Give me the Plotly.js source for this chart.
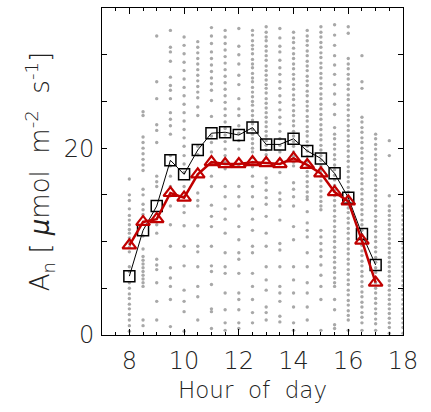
<!DOCTYPE html>
<html><head><meta charset="utf-8">
<script src="https://cdn.plot.ly/plotly-3.0.1.min.js"></script>
<style>html,body{margin:0;padding:0;background:#fff}#c{width:431px;height:412px}</style>
</head><body><div id="c"></div>
<script>
// Half-hour bins
const hours = [8,8.5,9,9.5,10,10.5,11,11.5,12,12.5,13,13.5,14,14.5,15,15.5,16,16.5,17,17.5,18];

// Individual observations (gray dots), one array per hour bin
const obs8   = [16.7,15.0,14.4,13.5,12.8,12.3,11.8,11.3,10.9,10.4,9.9,9.4,8.9,7.3,6.8,5.6,5.0,4.4,3.9,3.3,2.8,2.2,1.6,1.0,0.4];
const obs8_5 = [23.9,23.5,21.2,20.6,20.0,19.4,18.8,18.2,17.6,15.6,15.0,14.0,13.4,12.9,10.6,9.2,8.4,8.0,7.6,7.2,6.8,6.4,6.0,5.6,5.2,1.6,1.0];
const obs9   = [32.0,27.1,25.3,22.5,21.9,20.6,17.0,16.4,15.9,11.8,10.9,8.1,7.5,7.0,5.6,3.6,1.6];
const obs9_5 = [32.6,30.8,30.3,29.3,27.6,26.7,26.2,25.3,23.8,23.1,22.4,21.5,19.2,18.1,17.0,15.9,14.9,13.8,11.8,9.5,7.2,6.1,5.2,3.8,0.9];
const obs10  = [31.9,31.0,30.1,29.2,28.3,27.4,26.5,25.6,24.7,23.8,22.9,22.0,21.1,20.2,19.2,18.3,17.4,15.9,14.8,13.8,13.1,11.7,9.5,7.4,4.8,3.6,2.5,0.4];
const obs10_5= [31.4,30.8,30.2,29.6,29.0,28.4,27.8,27.2,26.6,26.0,25.4,24.4,23.5,20.2,19.3,17.0,15.2,14.4,13.8,11.7,9.5,8.9,7.3,5.2,4.1,1.6];
const obs11  = [32.9,32.0,31.2,30.3,29.6,28.9,28.2,27.5,26.9,26.2,25.1,23.4,21.3,20.6,19.6,18.4,17.0,15.9,13.9,12.7,11.6,9.5,7.4,6.8,5.4,2.8,2.5,0.7];
const obs11_5= [32.6,31.9,31.2,30.5,29.8,29.1,28.4,27.7,27.0,26.3,25.6,24.9,24.2,23.5,22.8,22.1,21.4,20.7,19.9,19.2,18.5,17.8,15.9,14.8,13.5,12.4,10.9,8.8,7.3,6.6,4.5,2.7,1.3,0.5];
const obs12  = [32.8,30.9,30.0,29.0,27.8,26.8,25.3,24.2,23.5,22.4,21.6,20.8,19.9,18.1,15.9,14.8,13.8,11.6,10.2,8.8,8.1,6.6,4.5,3.8,2.7,1.3,0.7];
const obs12_5= [32.6,32.1,31.5,31.0,30.6,30.1,29.5,29.0,28.6,28.0,27.5,27.1,26.5,26.0,25.5,25.0,24.6,24.0,23.5,23.0,22.6,22.0,21.5,21.0,20.5,20.0,19.6,19.0,18.5,18.0,17.0,15.9,14.8,13.5,12.4,11.2,9.5,8.8,6.6,5.2,3.8,2.4,1.3];
const obs13  = [33.0,32.4,31.9,31.5,30.9,30.4,29.9,29.4,28.8,28.3,27.8,27.3,26.8,26.4,25.9,25.3,24.8,24.3,23.8,23.3,22.8,22.3,21.8,21.3,20.8,20.3,19.8,19.3,18.9,16.8,16.3,15.5,14.7,14.0,12.7,10.9,9.5,7.3,5.9,4.8,3.0,2.4,1.6];
const obs13_5= [32.8,31.8,30.9,30.3,29.4,28.6,27.9,27.1,26.4,25.6,24.9,24.1,23.3,22.6,21.8,21.0,20.3,19.6,18.8,17.4,15.2,14.5,13.8,12.3,9.8,9.1,7.3,5.2,4.5,3.6,2.0,1.4];
const obs14  = [32.4,31.8,31.3,30.7,30.1,29.6,29.0,28.5,27.9,27.4,26.8,26.3,25.7,25.2,24.6,24.0,23.5,22.9,22.4,21.8,21.3,20.7,20.2,19.6,19.1,18.5,18.1,16.3,15.6,14.8,13.8,11.6,10.2,7.3,5.9,4.5,3.0,1.3,0.5];
const obs14_5= [32.6,32.0,31.5,31.0,30.4,29.9,29.3,28.8,28.3,27.7,27.2,26.7,26.1,25.6,25.0,24.5,24.0,23.4,22.9,22.3,21.8,21.3,20.7,20.2,19.7,19.1,18.6,18.0,17.5,17.0,16.4,15.9,15.3,14.8,14.5,13.2,12.0,11.2,10.5,8.8,7.3,5.6,4.5,3.0,1.6];
const obs15  = [33.0,32.4,31.9,31.3,30.8,30.2,29.7,29.1,28.6,28.0,27.5,26.9,26.4,25.8,25.3,24.7,24.2,23.6,23.1,22.5,22.0,21.4,20.9,20.3,19.8,19.2,18.7,18.1,17.6,17.0,16.5,15.9,15.4,14.8,14.3,13.8,13.4,11.2,10.5,9.8,9.1,8.4,7.5,6.4,5.2,3.8,0.5];
const obs15_5= [33.2,32.1,31.0,29.9,28.9,27.9,26.8,25.8,24.7,23.6,22.2,21.5,21.0,20.4,19.9,19.3,18.8,18.2,17.7,17.1,16.6,16.0,15.5,14.9,14.4,13.8,13.3,12.7,12.2,11.6,11.1,10.5,10.0,9.4,8.9,8.3,7.8,7.2,6.7,6.1,5.6,5.2,3.8,2.7,1.1,0.7];
const obs16  = [33.0,32.3,29.6,29.0,28.5,27.9,27.4,26.8,26.3,25.7,25.2,24.6,24.1,23.5,23.0,22.4,21.9,21.3,20.8,20.2,19.7,19.1,18.6,18.0,17.5,16.9,16.4,15.8,15.3,14.7,14.2,13.6,13.1,12.5,12.0,11.4,10.9,10.3,9.8,9.2,8.7,8.1,7.6,7.0,6.5,5.9,5.4,4.8,4.3,3.7,3.2,2.6,2.1,1.6,0.5];
const obs16_5= [29.9,27.1,26.4,23.3,22.8,22.2,21.7,21.1,20.6,20.0,19.5,18.9,18.4,17.8,17.3,16.7,16.2,15.6,15.1,14.5,14.0,13.4,12.9,12.3,11.8,11.2,10.7,10.1,9.6,9.0,8.5,7.9,7.4,6.8,6.3,5.7,5.2,4.6,4.1,3.5,3.0,2.4,1.9,1.3,0.5];
const obs17  = [21.5,21.0,20.4,19.9,19.3,18.8,18.2,17.7,17.1,16.6,16.0,15.5,14.9,14.4,13.8,13.3,12.7,12.2,11.6,11.1,10.5,10.0,9.4,8.9,8.3,7.8,7.2,6.7,6.1,5.6,5.0,4.5,3.9,3.4,2.8,2.3,1.7,1.2,0.5];
const obs17_5= [20.8,19.2,14.9,13.8,13.3,12.8,12.3,11.8,11.3,10.8,10.3,9.8,9.3,8.8,8.3,7.8,7.3,6.8,6.3,5.8,5.3,4.8,4.3,3.8,3.3,2.8,2.3,1.8,1.3,0.8,0.2];
const obs18  = [13.8,13.3,12.8,12.3,11.8,11.3,10.8,10.3,9.8,9.3,8.8,8.3,7.8,7.3,6.8,6.3,5.8,5.3,4.8,4.3,3.8,3.3,2.8,2.3,1.8,1.3,0.8,0.2];

// Bin means
const meanHours = [8,8.5,9,9.5,10,10.5,11,11.5,12,12.5,13,13.5,14,14.5,15,15.5,16,16.5,17];
const meanBlack = [6.3,11.2,13.8,18.7,17.2,19.8,21.6,21.7,21.4,22.2,20.4,20.4,21.0,19.7,18.9,17.3,14.7,10.8,7.5];
const meanRed   = [9.6,12.1,12.4,15.2,14.7,17.2,18.5,18.3,18.3,18.5,18.4,18.3,18.9,18.2,17.3,15.3,14.3,10.1,5.6];

// Axis ticks
const xTickVals = [8,10,12,14,16,18];
const yTickVals = [0,20];

const cols = [obs8,obs8_5,obs9,obs9_5,obs10,obs10_5,obs11,obs11_5,obs12,obs12_5,obs13,obs13_5,obs14,obs14_5,obs15,obs15_5,obs16,obs16_5,obs17,obs17_5,obs18];
const sx = [], sy = [];
cols.forEach((c,i)=>c.forEach(v=>{sx.push(hours[i]); sy.push(v);}));

const FONT = 'DejaVu Sans, sans-serif';
const NB = '\u00a0';
const traces = [
  {x:sx, y:sy, type:'scatter', mode:'markers', cliponaxis:true,
   marker:{size:3.4, color:'#a8a8a8'}, hoverinfo:'skip'},
  {x:meanHours, y:meanBlack, type:'scatter', mode:'lines+markers',
   line:{color:'#000', width:1},
   marker:{symbol:'square-open', size:11, color:'#000', line:{width:1.5, color:'#000'}}},
  {x:meanHours, y:meanRed, type:'scatter', mode:'lines+markers',
   line:{color:'#c00000', width:2.5},
   marker:{symbol:'triangle-up-open', size:12, color:'#c00000', line:{width:2.2, color:'#c00000'}}}
];

const layout = {
  width:431, height:412, showlegend:false,
  paper_bgcolor:'#fff', plot_bgcolor:'#fff',
  margin:{l:102, r:28, t:8, b:77},
  font:{family:FONT, color:'#222', size:22, weight:200},
  xaxis:{range:[7,18], tickvals:xTickVals, ticks:'inside', ticklen:6, tickcolor:'#000',
    minor:{dtick:0.5, tick0:7, ticks:'inside', ticklen:3, tickcolor:'#000'},
    showline:true, linecolor:'#000', linewidth:1, mirror:'ticks', showgrid:false, zeroline:false,
    tickfont:{family:FONT, size:24, color:'#222', weight:200}, ticklabelstandoff:4,
    title:{text:'Hour'+NB+NB+'of'+NB+NB+'day', font:{family:FONT, size:23, color:'#222', weight:200}, standoff:8}},
  yaxis:{range:[0,35], tickvals:yTickVals, ticks:'inside', ticklen:5, tickcolor:'#000',
    minor:{dtick:5, tick0:0, ticks:'inside', ticklen:5, tickcolor:'#000'},
    showline:true, linecolor:'#000', linewidth:1, mirror:'ticks', showgrid:false, zeroline:false,
    tickfont:{family:FONT, size:24, color:'#222', weight:200}, ticklabelstandoff:2,
    title:{text:'A<sub>n</sub>'+NB+'['+NB+'<i>μ</i>mol'+NB+NB+'m<sup>-2</sup>'+NB+NB+'s<sup>-1</sup>]', font:{family:FONT, size:26, color:'#222', weight:200}, standoff:6}}
};

Plotly.newPlot('c', traces, layout, {staticPlot:true, displayModeBar:false});
</script></body></html>
